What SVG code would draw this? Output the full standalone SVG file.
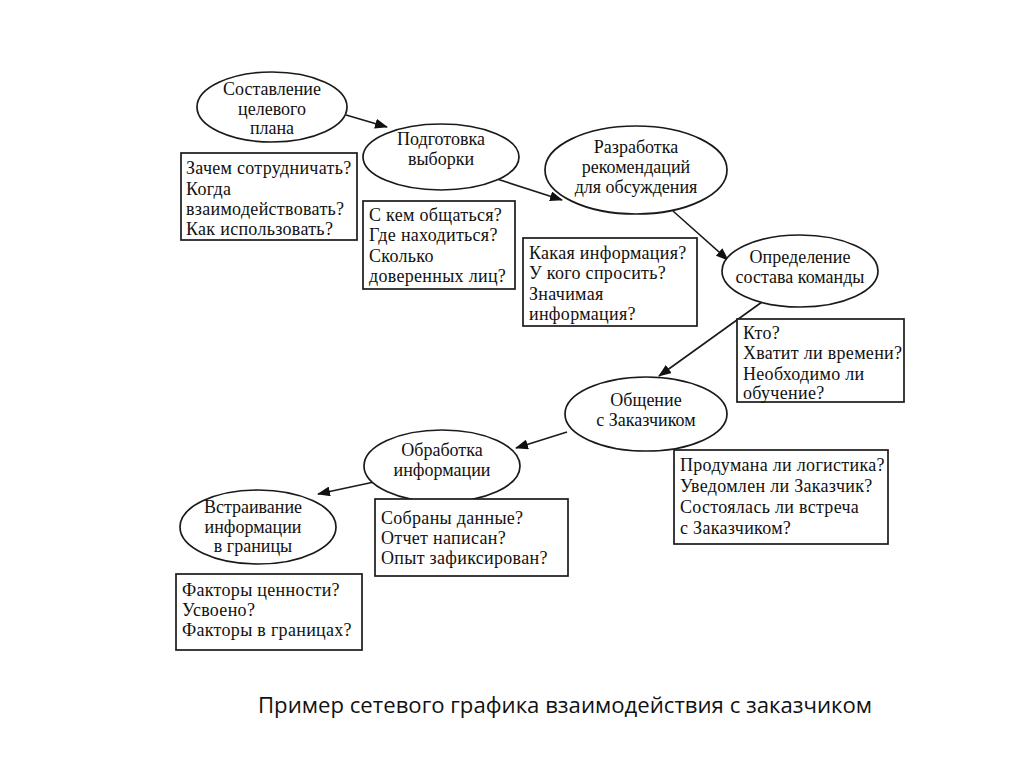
<svg xmlns="http://www.w3.org/2000/svg" width="1024" height="767" viewBox="0 0 1024 767">
<style>
.n ellipse{fill:#fff;stroke:#1a1a1a;stroke-width:1.7}
.b rect{fill:#fff;stroke:#1a1a1a;stroke-width:1.7}
text{font-family:"Liberation Serif","Times New Roman",serif;font-size:18px;letter-spacing:0.3px;fill:#111}
.c{text-anchor:middle;letter-spacing:0}
.cap{font-family:"Open Sans","Liberation Sans",sans-serif;font-size:21px;letter-spacing:0;text-anchor:middle;fill:#111}
#connectors line{stroke:#1a1a1a;stroke-width:1.6;marker-end:url(#ah)}
</style>
<defs>
<marker id="ah" viewBox="0 0 13 10" refX="12" refY="5" markerWidth="13" markerHeight="10" markerUnits="userSpaceOnUse" orient="auto">
<path d="M0,0 L13,5 L0,10 Z" fill="#111"/>
</marker>
</defs>
<rect width="1024" height="767" fill="#fff"/>
<g id="connectors">
<line x1="346" y1="115" x2="387" y2="127"/>
<line x1="497" y1="179" x2="562" y2="200"/>
<line x1="673" y1="211" x2="728" y2="260"/>
<line x1="762" y1="302" x2="659" y2="376"/>
<line x1="567" y1="432" x2="516" y2="448"/>
<line x1="374" y1="482" x2="318" y2="494"/>
</g>
<g id="n1" class="n"><ellipse cx="272" cy="107" rx="75" ry="35"/>
<text class="c" x="272" y="95">Составление</text><text class="c" x="272" y="115">целевого</text><text class="c" x="272" y="134">плана</text></g>
<g id="n2" class="n"><ellipse cx="441" cy="157" rx="78" ry="33"/>
<text class="c" x="441" y="145">Подготовка</text><text class="c" x="441" y="165">выборки</text></g>
<g id="n3" class="n"><ellipse cx="636" cy="170" rx="91" ry="44"/>
<text class="c" x="636" y="153">Разработка</text><text class="c" x="636" y="173">рекомендаций</text><text class="c" x="636" y="193">для обсуждения</text></g>
<g id="n4" class="n"><ellipse cx="800" cy="271" rx="78" ry="36"/>
<text class="c" x="800" y="263">Определение</text><text class="c" x="800" y="283">состава команды</text></g>
<g id="n5" class="n"><ellipse cx="646" cy="414" rx="81" ry="37"/>
<text class="c" x="646" y="406">Общение</text><text class="c" x="646" y="426">с Заказчиком</text></g>
<g id="n6" class="n"><ellipse cx="442" cy="466" rx="78" ry="36"/>
<text class="c" x="442" y="456">Обработка</text><text class="c" x="442" y="476">информации</text></g>
<g id="n7" class="n"><ellipse cx="258" cy="527" rx="78" ry="37"/>
<text class="c" x="253" y="513">Встраивание</text><text class="c" x="253" y="533">информации</text><text class="c" x="253" y="552">в границы</text></g>
<g id="b1" class="b"><rect x="181" y="153" width="176" height="87"/>
<text x="186" y="174">Зачем сотрудничать?</text><text x="186" y="195">Когда</text><text x="186" y="215">взаимодействовать?</text><text x="186" y="235">Как использовать?</text></g>
<g id="b2" class="b"><rect x="363" y="201" width="152" height="88"/>
<text x="369" y="221">С кем общаться?</text><text x="369" y="241">Где находиться?</text><text x="369" y="262">Сколько</text><text x="369" y="282">доверенных лиц?</text></g>
<g id="b3" class="b"><rect x="523" y="238" width="174" height="88"/>
<text x="529" y="259">Какая информация?</text><text x="529" y="279">У кого спросить?</text><text x="529" y="300">Значимая</text><text x="529" y="320">информация?</text></g>
<g id="b4" class="b"><rect x="737" y="319" width="167" height="83"/>
<text x="743" y="339">Кто?</text><text x="743" y="359">Хватит ли времени?</text><text x="743" y="380">Необходимо ли</text><text x="743" y="399">обучение?</text></g>
<g id="b5" class="b"><rect x="674" y="450" width="214" height="94"/>
<text x="680" y="471">Продумана ли логистика?</text><text x="680" y="492">Уведомлен ли Заказчик?</text><text x="680" y="513">Состоялась ли встреча</text><text x="680" y="534">с Заказчиком?</text></g>
<g id="b6" class="b"><rect x="375" y="499" width="193" height="77"/>
<text x="381" y="524">Собраны данные?</text><text x="381" y="544">Отчет написан?</text><text x="381" y="564">Опыт зафиксирован?</text></g>
<g id="b7" class="b"><rect x="176" y="574" width="186" height="76"/>
<text x="182" y="596">Факторы ценности?</text><text x="182" y="616">Усвоено?</text><text x="182" y="636">Факторы в границах?</text></g>
<text class="cap" x="565" y="713" textLength="614" lengthAdjust="spacingAndGlyphs">Пример сетевого графика взаимодействия с заказчиком</text>
</svg>
